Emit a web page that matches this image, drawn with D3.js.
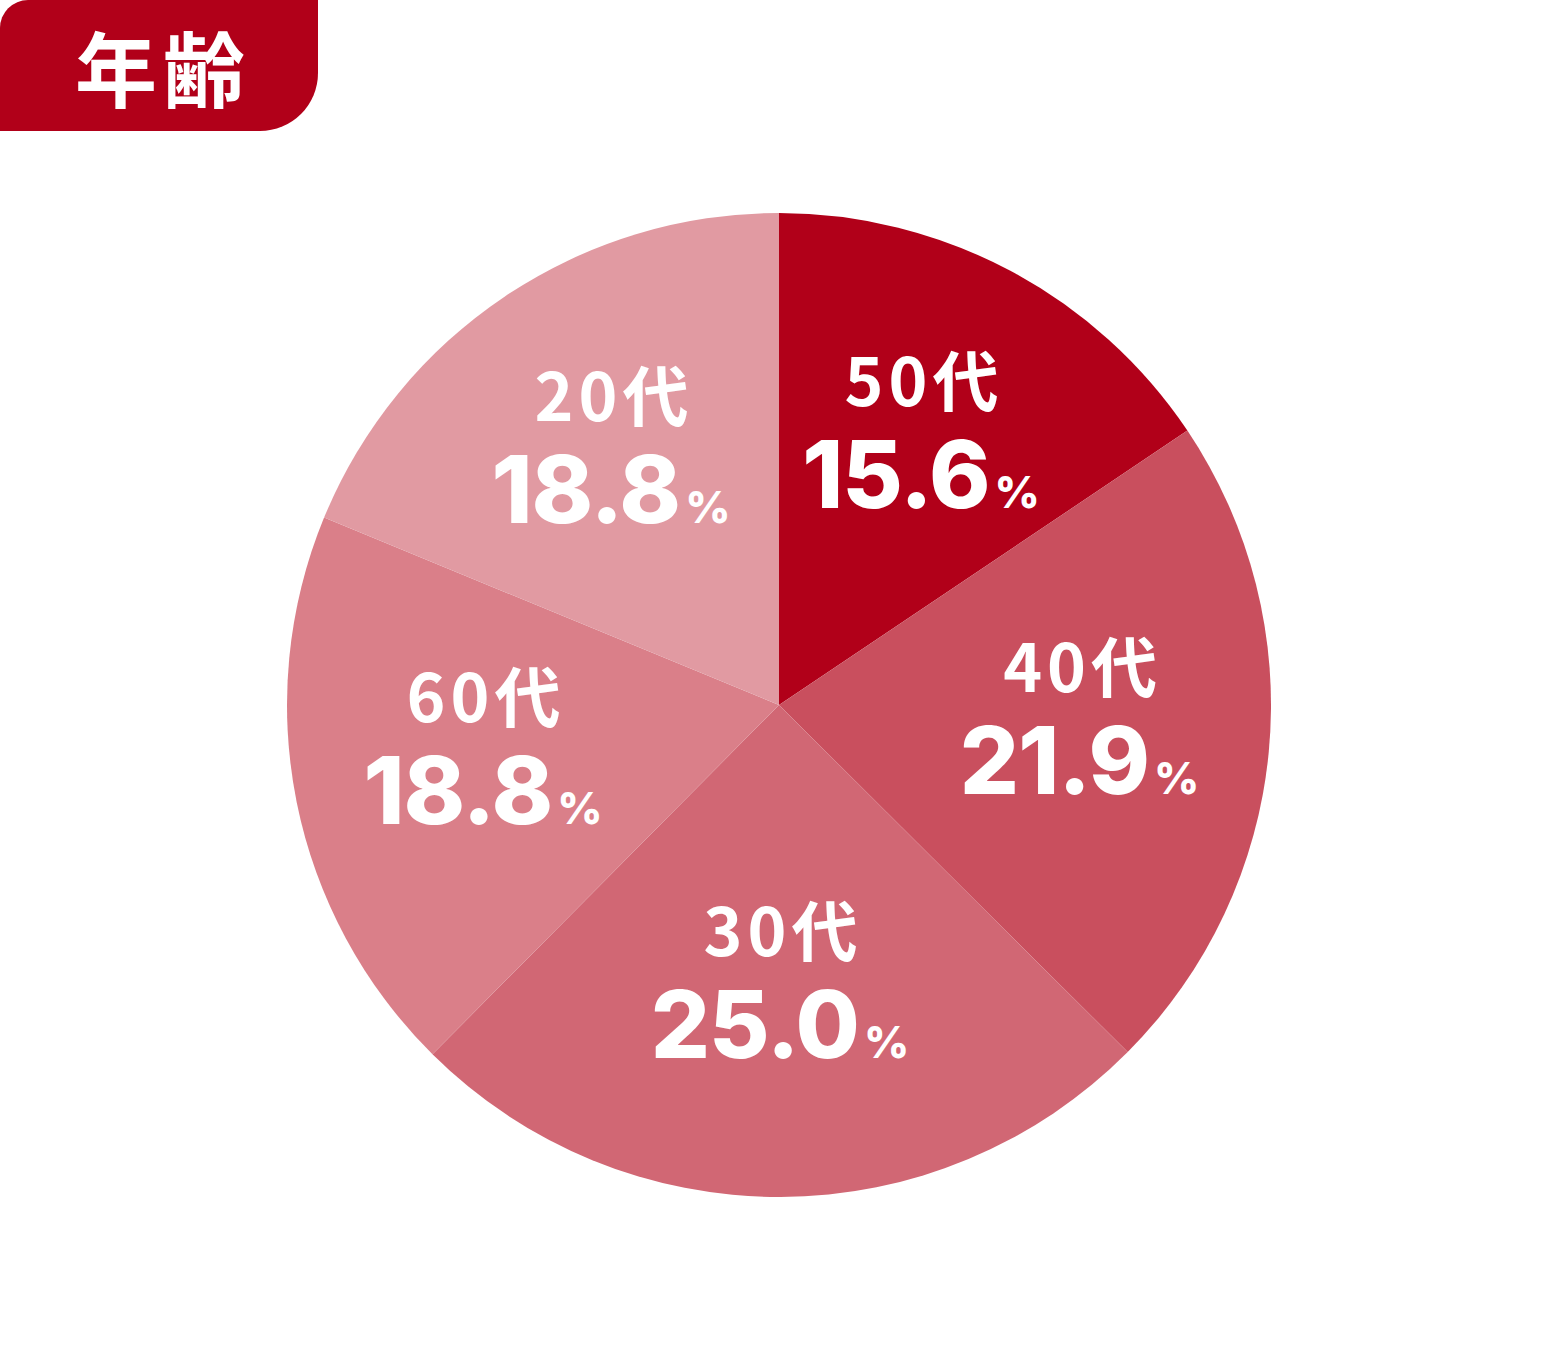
<!DOCTYPE html>
<html><head><meta charset="utf-8">
<script src="https://cdn.jsdelivr.net/npm/d3@7"></script>
<style>
html,body{margin:0;padding:0;background:#fff;}
svg{display:block;}
</style>
</head><body>
<svg id="chart" width="1560" height="1350"></svg>
<script>
const title = "年齢";
const categories = ["50代", "40代", "30代", "60代", "20代"];
const values = [15.6, 21.9, 25.0, 18.8, 18.8];
const colors = ["#B10019", "#C94F5E", "#D16774", "#DA7F89", "#E19AA2"];

const W = 1560, H = 1350;
const cx = 779, cy = 705, R = 492;
const svg = d3.select("#chart");

// Title box: square top-right & bottom-left, rounded top-left & bottom-right
const bw = 318, bh = 131, r1 = 28, r2 = 58;
const p = d3.path();
p.moveTo(r1, 0);
p.lineTo(bw, 0);
p.lineTo(bw, bh - r2);
p.arcTo(bw, bh, bw - r2, bh, r2);
p.lineTo(0, bh);
p.lineTo(0, r1);
p.arcTo(0, 0, r1, 0, r1);
p.closePath();
svg.append("path").attr("d", p.toString()).attr("fill", "#B10019");
svg.append("text")
  .attr("x", 163).attr("y", 101)
  .attr("text-anchor", "middle")
  .attr("font-family", "'Noto Sans CJK JP', sans-serif")
  .attr("font-weight", 700)
  .attr("font-size", 82)
  .attr("letter-spacing", 6)
  .attr("fill", "#fff")
  .text(title);

const data = categories.map((c, i) => ({cat: c, value: values[i], color: colors[i]}));
const pie = d3.pie().value(d => d.value).sort(null);
const arcs = pie(data);
const arc = d3.arc().innerRadius(0).outerRadius(R);

const g = svg.append("g").attr("transform", `translate(${cx},${cy})`);
g.selectAll("path.slice").data(arcs).join("path")
  .attr("class", "slice")
  .attr("d", arc)
  .attr("fill", d => d.data.color);

// label anchor: slightly elliptical placement around the centroid direction
const rx = 302, ry = 292, dyShift = -17;
const lab = g.selectAll("g.lab").data(arcs).join("g")
  .attr("class", "lab")
  .attr("transform", d => {
    const a = (d.startAngle + d.endAngle) / 2;
    const x = Math.sin(a) * rx;
    const y = -Math.cos(a) * ry + dyShift;
    return `translate(${x},${y})`;
  });

lab.append("text")
  .attr("y", -24)
  .attr("x", 3)
  .attr("text-anchor", "middle")
  .attr("font-family", "'Noto Sans CJK JP', sans-serif")
  .attr("font-weight", 700)
  .attr("font-size", 66)
  .attr("letter-spacing", 5)
  .attr("fill", "#fff")
  .text(d => d.data.cat);

const num = lab.append("text")
  .attr("y", 78)
  .attr("text-anchor", "middle")
  .attr("font-family", "Inter, sans-serif")
  .attr("font-weight", 800)
  .attr("letter-spacing", -1)
  .attr("fill", "#fff");
num.append("tspan").attr("font-size", 93).text(d => d.data.value.toFixed(1));
num.append("tspan").attr("font-size", 44).attr("dx", 5).attr("letter-spacing", 0).text("%");
</script>
</body></html>
